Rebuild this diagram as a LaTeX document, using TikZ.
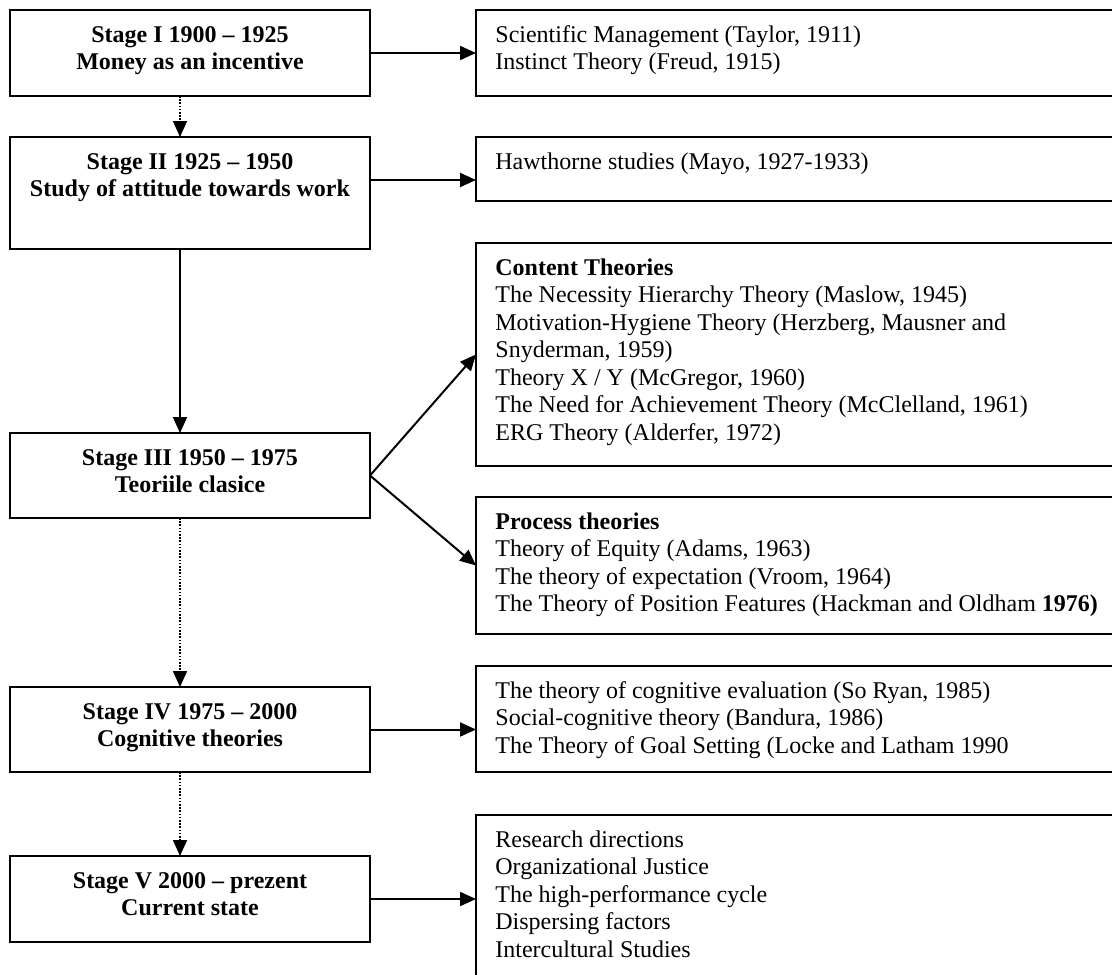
\documentclass[tikz,border=0pt]{standalone}
\usepackage{fontspec}
\setmainfont[Ligatures=NoCommon]{Liberation Serif}
\usetikzlibrary{arrows.meta}
\begin{document}
\begin{tikzpicture}[x=0.5pt,y=-0.5pt,
  stagebox/.style={draw, line width=1pt, rectangle, inner sep=0pt, outer sep=0pt, anchor=north west, minimum width=180pt},
  listbox/.style={draw, line width=1pt, rectangle, inner sep=0pt, outer sep=0pt, anchor=north west, minimum width=330pt},
  stagetext/.style={anchor=north, align=center, inner sep=0pt, font=\fontsize{12pt}{13.75pt}\selectfont\bfseries},
  listtext/.style={anchor=north west, align=left, inner sep=0pt, font=\fontsize{12pt}{13.75pt}\selectfont},
  conn/.style={line width=1pt, -{Triangle[length=8pt,width=7pt]}},
  dotconn/.style={line width=0.8pt, dash pattern=on 0.8pt off 0.8pt, -{Triangle[length=8pt,width=7pt]}}
]
\useasboundingbox (0,0) rectangle (1112,974);

% stage boxes (left column)
\node[stagebox, minimum height=43pt] (b1) at (10,10) {};
\node[stagebox, minimum height=56pt] (b2) at (10,137) {};
\node[stagebox, minimum height=42.5pt] (b3) at (10,433) {};
\node[stagebox, minimum height=42.5pt] (b4) at (10,687) {};
\node[stagebox, minimum height=43pt] (b5) at (10,856) {};

\node[stagetext] (t1) at (190,20) {\rule{0pt}{11pt}Stage I 1900 – 1925\\Money as an incentive};
\node[stagetext] (t2) at (190,147) {\rule{0pt}{11pt}Stage II 1925 – 1950\\Study of attitude towards work};
\node[stagetext] (t3) at (190,443) {\rule{0pt}{11pt}Stage III 1950 – 1975\\Teoriile clasice};
\node[stagetext] (t4) at (190,697) {\rule{0pt}{11pt}Stage IV 1975 – 2000\\Cognitive theories};
\node[stagetext] (t5) at (190,866) {\rule{0pt}{11pt}Stage V 2000 – prezent\\Current state};

% list boxes (right column)
\node[listbox, minimum height=43pt] (r1) at (476,10) {};
\node[listbox, minimum height=32pt] (r2) at (476,137) {};
\node[listbox, minimum height=111.5pt] (r3) at (476,243) {};
\node[listbox, minimum height=68.5pt] (r4) at (476,497) {};
\node[listbox, minimum height=53pt] (r5) at (476,666) {};
\node[listbox, minimum height=100pt] (r6) at (476,815) {};

\node[listtext] (l1) at (495,20) {\rule{0pt}{11pt}Scientific Management (Taylor, 1911)\\Instinct Theory (Freud, 1915)};
\node[listtext] (l2) at (495,147) {\rule{0pt}{11pt}Hawthorne studies (Mayo, 1927-1933)};
\node[listtext] (l3) at (495,253) {\rule{0pt}{11pt}\textbf{Content Theories}\\
The Necessity Hierarchy Theory (Maslow, 1945)\\
Motivation-Hygiene Theory (Herzberg, Mausner and\\
Snyderman, 1959)\\
Theory X / Y (McGregor, 1960)\\
The Need for Achievement Theory (McClelland, 1961)\\
ERG Theory (Alderfer, 1972)};
\node[listtext] (l4) at (495,507) {\rule{0pt}{11pt}\textbf{Process theories}\\
Theory of Equity (Adams, 1963)\\
The theory of expectation (Vroom, 1964)\\
The Theory of Position Features (Hackman and Oldham \textbf{1976)}};
\node[listtext] (l5) at (495,676) {\rule{0pt}{11pt}The theory of cognitive evaluation (So Ryan, 1985)\\
Social-cognitive theory (Bandura, 1986)\\
The Theory of Goal Setting (Locke and Latham 1990};
\node[listtext] (l6) at (495,825) {\rule{0pt}{11pt}Research directions\\
Organizational Justice\\
The high-performance cycle\\
Dispersing factors\\
Intercultural Studies};

% connectors
\coordinate (vx) at (180,0);
\coordinate (y2) at (0,180);
\draw[dotconn] (b1.south -| vx) -- (b2.north -| vx);
\draw[conn] (b2.south -| vx) -- (b3.north -| vx);
\draw[dotconn] (b3.south -| vx) -- (b4.north -| vx);
\draw[dotconn] (b4.south -| vx) -- (b5.north -| vx);

\draw[conn] (b1.east) -- (b1.east -| r1.west);
\draw[conn] (b2.east |- y2) -- (r2.west |- y2);
\draw[conn] (b3.east) -- (r3.west);
\draw[conn] (b3.east) -- (r4.west);
\draw[conn] (b4.east) -- (b4.east -| r5.west);
\draw[conn] (b5.east) -- (b5.east -| r6.west);
\end{tikzpicture}
\end{document}
